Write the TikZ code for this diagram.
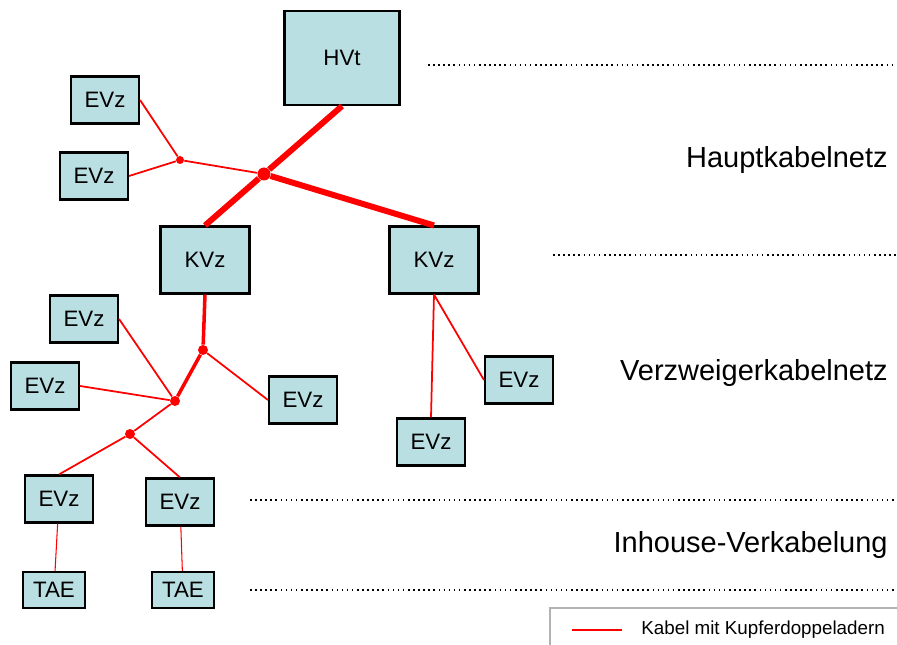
\documentclass[tikz,border=0pt]{standalone}
\usepackage{fontspec}
\setmainfont{Liberation Sans}
\definecolor{boxfill}{RGB}{185,223,226}
\begin{document}
\begin{tikzpicture}[x=0.02cm, y=-0.02cm,
    box/.style={draw, fill=boxfill, line width=1.2pt, inner sep=0pt, font=\fontsize{12.7}{14}\selectfont},
    evz/.style={box, minimum width=1.36cm, minimum height=0.94cm},
    kvz/.style={box, minimum width=1.78cm, minimum height=1.34cm},
    tae/.style={box, minimum width=1.24cm, minimum height=0.72cm},
    dot/.style={circle, fill=red, inner sep=0pt, minimum size=#1},
    main/.style={draw=red, line width=3.4pt},
    branch/.style={draw=red, line width=2pt},
    cable/.style={draw=red, line width=1pt},
    house/.style={draw=red, line width=0.6pt},
    level/.style={draw, dotted, line width=0.9pt},
    label/.style={anchor=east, inner sep=0pt, font=\fontsize{16.5}{18}\selectfont}]
  \useasboundingbox (0,0) rectangle (897,645);
  \node (hvt) at (342,58) [box, minimum width=2.3cm, minimum height=1.88cm] {HVt};
  \node (k1) at (205,260) [kvz] {KVz};
  \node (k2) at (434,260) [kvz] {KVz};
  \node (e1) at (105,100) [evz] {EVz};
  \node (e2) at (94,176) [evz] {EVz};
  \node (e3) at (84,319) [evz] {EVz};
  \node (e4) at (45,386) [evz] {EVz};
  \node (e5) at (303,400) [evz] {EVz};
  \node (e6) at (59,499) [evz] {EVz};
  \node (e7) at (180,502) [evz] {EVz};
  \node (e8) at (519,380) [evz] {EVz};
  \node (e9) at (431,442) [evz] {EVz};
  \node (t1) at (54,590) [tae] {TAE};
  \node (t2) at (183,590) [tae] {TAE};
  \node (j1) at (264,174) [dot=0.26cm] {};
  \node (j2) at (180,160) [dot=0.16cm] {};
  \node (j3) at (203,350) [dot=0.2cm] {};
  \node (j4) at (175,401) [dot=0.2cm] {};
  \node (j5) at (130,434) [dot=0.2cm] {};
  \foreach \source/\dest in {hvt.south/j1, j1/k1.north, j1/k2.north}
    \path[main] (\source) -- (\dest);
  \foreach \source/\dest in {k1.south/j3, j3/j4}
    \path[branch] (\source) -- (\dest);
  \foreach \source/\dest in {e1.east/j2, e2.east/j2, j2/j1, j3/e5.west, e3.east/j4, e4.east/j4, j4/j5, j5/e6.north, j5/e7.north, k2.south/e9.north, k2.south/e8.west}
    \path[cable] (\source) -- (\dest);
  \foreach \source/\dest in {e6/t1, e7/t2}
    \path[house] (\source) -- (\dest);
  % levels
  \path[level] (428,65) -- (897,65);
  \path[level] (553,255) -- (897,255);
  \path[level] (250,500) -- (897,500);
  \path[level] (250,590) -- (897,590);
  \node (l1) at (888,160) [label] {Hauptkabelnetz};
  \node (l2) at (888,373) [label] {Verzweigerkabelnetz};
  \node (l3) at (888,545) [label] {Inhouse-Verkabelung};
  % legend
  \draw[gray!60, line width=0.6pt] (900,608) -| (550,650);
  \draw[red, line width=1.6pt] (572,630) -- (622,630);
  \node (leg) at (641,630) [anchor=west, inner sep=0pt, font=\fontsize{10.7}{12}\selectfont] {Kabel mit Kupferdoppeladern};
\end{tikzpicture}
\end{document}
